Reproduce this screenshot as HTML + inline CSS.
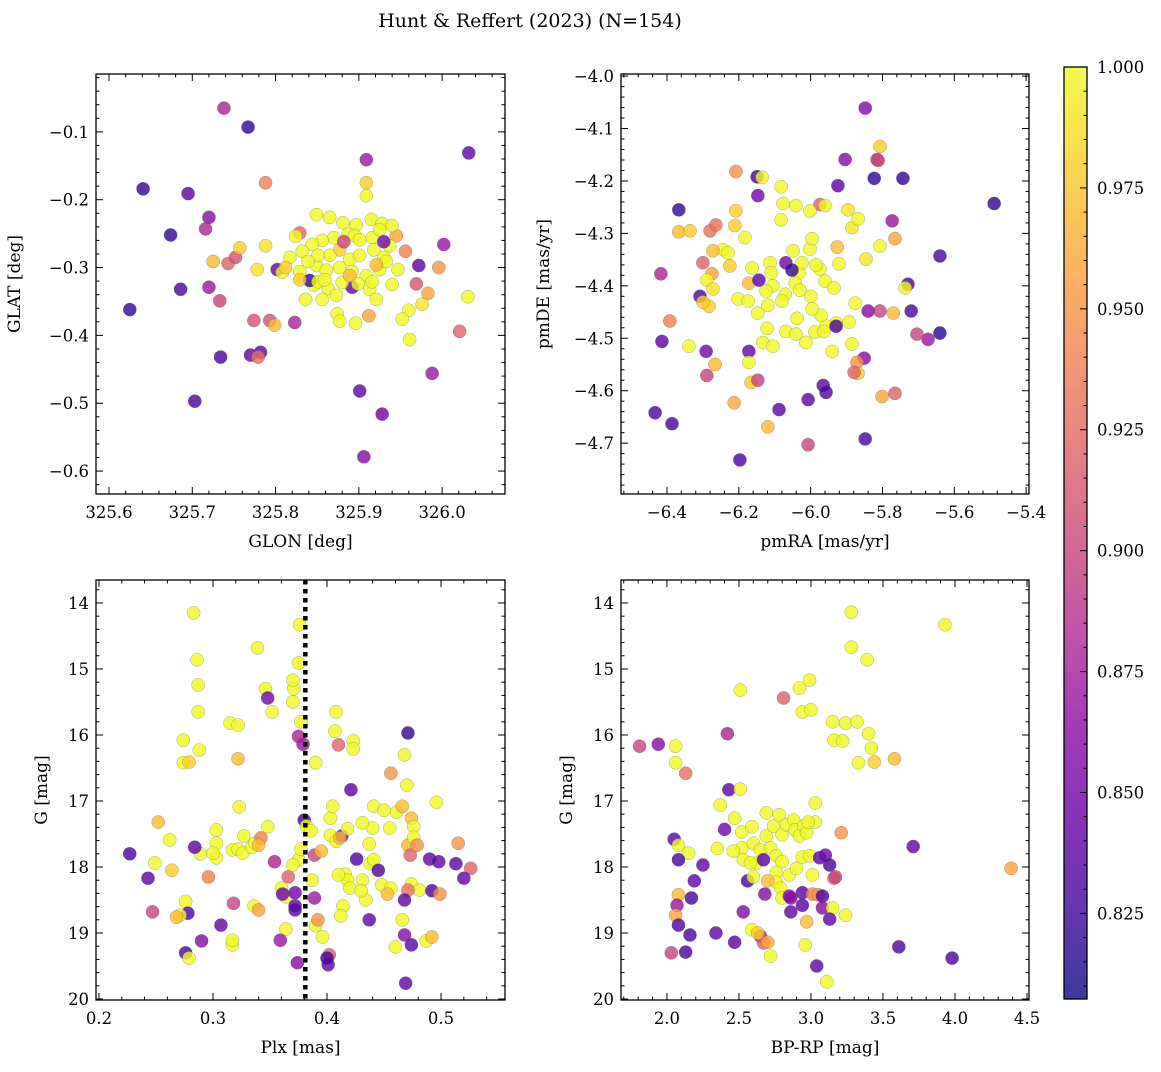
<!DOCTYPE html>
<html><head><meta charset="utf-8">
<style>
body{margin:0;background:#fff;}
svg text{font-family:"DejaVu Serif","Liberation Serif",serif;fill:#000;}
</style></head>
<body>
<svg id="fig" width="1161" height="1067" viewBox="0 0 1161 1067" xmlns="http://www.w3.org/2000/svg">
<text x="530" y="27" font-size="19" text-anchor="middle">Hunt &amp; Reffert (2023) (N=154)</text>
</svg>
<script>
// ---------- Panel 1: GLON vs GLAT ----------
const glon=[325.738,325.767,325.641,325.695,325.674,325.720,325.716,325.686,325.625,325.703,325.734,325.733,325.720,325.725,325.743,325.752,325.757,325.774,325.778,325.788,325.788,325.770,325.782,325.779,325.793,325.799,325.802,325.823,325.901,325.928,325.906,325.909,326.032,326.002,325.972,325.996,325.969,325.983,325.976,326.021,325.988,326.031,325.960,325.952,325.961,325.956,325.945,325.912,325.892,325.874,325.877,325.896,325.829,325.824,
325.849,325.865,325.881,325.897,325.909,325.909,325.915,325.928,325.940,325.916,325.887,325.870,325.856,325.844,325.832,325.817,325.808,325.829,325.849,325.861,325.877,325.889,325.901,325.918,325.930,325.925,325.909,325.899,325.880,325.863,325.846,325.836,325.856,325.873,325.913,325.921,325.933,325.947,325.937,325.895,325.877,325.865,325.851,325.839,325.892,325.841,325.889,325.882,325.921,325.940,325.916,325.851,325.925,325.930,325.829,325.812,325.859,325.901];
const glat=[-0.065,-0.093,-0.184,-0.191,-0.252,-0.226,-0.243,-0.332,-0.362,-0.497,-0.432,-0.349,-0.329,-0.291,-0.294,-0.285,-0.271,-0.378,-0.303,-0.175,-0.268,-0.429,-0.425,-0.432,-0.378,-0.385,-0.303,-0.381,-0.482,-0.516,-0.579,-0.141,-0.131,-0.266,-0.297,-0.300,-0.324,-0.338,-0.354,-0.394,-0.456,-0.343,-0.363,-0.376,-0.406,-0.276,-0.253,-0.371,-0.329,-0.368,-0.379,-0.382,-0.249,-0.254,
-0.222,-0.226,-0.234,-0.237,-0.194,-0.175,-0.229,-0.235,-0.238,-0.256,-0.251,-0.256,-0.260,-0.266,-0.276,-0.285,-0.307,-0.306,-0.297,-0.304,-0.300,-0.288,-0.282,-0.274,-0.285,-0.303,-0.312,-0.324,-0.322,-0.331,-0.326,-0.347,-0.347,-0.341,-0.332,-0.347,-0.291,-0.303,-0.268,-0.253,-0.274,-0.282,-0.282,-0.291,-0.306,-0.319,-0.312,-0.262,-0.296,-0.325,-0.321,-0.321,-0.244,-0.262,-0.318,-0.300,-0.318,-0.259];
const prob1=[0.88,0.82,0.82,0.84,0.82,0.86,0.88,0.83,0.82,0.83,0.83,0.90,0.87,0.97,0.92,0.91,0.98,0.91,0.99,0.94,0.99,0.84,0.84,0.93,0.91,0.97,0.84,0.88,0.84,0.85,0.86,0.87,0.84,0.87,0.84,0.95,0.91,0.96,0.99,0.92,0.87,1,1,1,1,0.94,0.96,0.96,0.84,1,1,1,0.92,1,
1,1,1,1,1,0.98,1,1,1,1,1,1,1,1,1,1,1,1,1,1,1,1,1,1,1,1,1,1,1,1,1,1,1,1,1,1,1,1,1,1,0.98,1,1,1,1,0.82,0.97,0.90,0.97,1,1,1,1,0.85,0.98,0.98,1,1];

// ---------- Panel 2: pmRA vs pmDE ----------
const pmra=[-5.848,-5.807,-5.815,-5.904,-5.823,-5.743,-5.489,-5.924,-5.974,-5.885,-5.896,-5.960,-6.041,-6.002,-6.077,-6.082,-6.149,-6.135,-6.208,-6.208,-6.147,-6.280,-6.367,-6.367,-6.336,-6.264,-6.211,-6.244,-6.272,-6.300,-6.275,-6.289,-6.272,-6.308,-6.283,-6.300,-6.417,-6.392,-6.339,-6.291,-6.266,-6.289,-6.414,-6.433,-6.386,-6.213,-6.197,-6.119,-6.172,-6.166,-6.147,-6.172,-6.007,-6.088,-6.007,-5.965,-5.957,-5.848,-5.851,-5.871,-5.868,-5.879,-5.885,-5.893,-5.801,-5.765,-5.807,-5.840,-5.770,-5.720,-5.673,-5.704,-5.640,-5.640,-5.729,-5.737,-5.765,-5.773,-5.807,-5.812,-5.846,-5.868,-5.876,-5.929,-5.957,-5.971,-5.996,-5.960,-5.935,-5.974,-6.002,-6.049,-6.032,-6.043,-6.071,-6.105,-6.124,-6.119,-6.147,-6.121,-6.133,-6.105,-6.113,-6.110,-6.069,-6.024,-5.985,-5.921,-5.996,-5.926,-6.038,-6.069,-6.041,-6.013,-5.988,-5.963,-5.940,-5.929,-6.052,-6.030,-5.999,-6.080,-6.163,-6.172,-6.230,-6.202,-6.174,-6.144,-6.183,-6.082,-6.225];
const pmde=[-4.061,-4.134,-4.159,-4.159,-4.195,-4.195,-4.243,-4.209,-4.245,-4.289,-4.255,-4.247,-4.247,-4.257,-4.243,-4.274,-4.192,-4.193,-4.182,-4.257,-4.228,-4.295,-4.255,-4.297,-4.295,-4.284,-4.285,-4.331,-4.333,-4.356,-4.377,-4.389,-4.406,-4.420,-4.439,-4.431,-4.377,-4.467,-4.515,-4.525,-4.550,-4.571,-4.506,-4.642,-4.663,-4.623,-4.732,-4.669,-4.525,-4.584,-4.580,-4.546,-4.617,-4.636,-4.703,-4.590,-4.603,-4.692,-4.538,-4.546,-4.567,-4.565,-4.511,-4.469,-4.611,-4.605,-4.448,-4.448,-4.452,-4.448,-4.502,-4.492,-4.490,-4.343,-4.397,-4.404,-4.310,-4.276,-4.324,-4.161,-4.349,-4.272,-4.433,-4.471,-4.477,-4.456,-4.444,-4.391,-4.404,-4.368,-4.330,-4.333,-4.375,-4.395,-4.416,-4.400,-4.410,-4.437,-4.452,-4.481,-4.508,-4.515,-4.356,-4.375,-4.356,-4.356,-4.360,-4.358,-4.310,-4.326,-4.462,-4.487,-4.492,-4.508,-4.488,-4.487,-4.525,-4.477,-4.370,-4.408,-4.420,-4.429,-4.366,-4.395,-4.337,-4.425,-4.429,-4.389,-4.308,-4.211,-4.362];
const prob2=[0.86,0.98,0.90,0.86,0.82,0.82,0.82,0.84,0.92,0.99,0.99,1,1,1,1,1,0.83,1,0.95,0.98,0.85,0.93,0.82,0.97,0.98,0.93,0.98,1,0.97,0.92,0.96,1,0.99,0.83,0.98,0.98,0.88,0.94,1,0.85,0.97,0.90,0.84,0.83,0.83,0.96,0.83,0.97,0.84,0.98,0.90,1,0.84,0.84,0.90,0.84,0.83,0.83,0.86,0.95,0.98,0.92,1,1,0.96,0.92,0.90,0.86,0.97,0.83,0.87,0.90,0.82,0.83,0.83,1,0.96,0.87,1,0.90,0.99,1,1,1,1,1,1,1,1,1,1,1,1,1,1,1,1,1,1,1,1,1,1,1,0.85,1,1,1,1,0.97,1,1,1,1,1,1,1,0.83,0.82,1,1,1,1,0.97,1,1,1,0.84,1,1,0.98];

// ---------- Panel 3: Plx vs G ----------
const plx=[.283,.286,.287,.287,.288,.274,.274,.279,.339,.346,.348,.352,.371,.370,.375,.370,.376,.315,.322,.322,.375,.379,.377,.390,.408,.407,.410,.423,.423,.421,.456,.323,.303,.303,.303,.317,.322,.326,.334,.337,.348,.354,.360,.366,.364,.372,.372,.375,.377,.380,.382,.386,.387,.389,.395,.403,.403,.405,.408,.413,.418,.411,.416,.418,.420,.414,.412,.396,.390,.392,.402,.401,.400,.389,.372,.370,.361,.364,.359,.374,.327,.336,.340,.342,.340,.300,.289,.296,.284,.264,.262,.276,.278,.271,.268,.290,.276,.279,.307,.317,.317,.318,.247,.243,.227,.249,.252,.410,.431,.434,.437,.430,.438,.441,.437,.440,.431,.441,.450,.455,.448,.456,.461,.466,.471,.473,.474,.476,.476,.479,.474,.481,.471,.468,.466,.460,.474,.468,.469,.487,.492,.490,.498,.492,.496,.515,.513,.526,.520,.499,.471,.468,.470,.453,.445,.426];
const gmag3=[14.15,14.86,15.24,15.65,16.23,16.08,16.42,16.41,14.68,15.30,15.44,15.65,15.30,15.50,14.91,15.17,14.33,15.82,15.85,16.36,16.02,16.14,15.80,16.42,15.65,15.94,16.15,16.09,16.21,16.83,16.58,17.09,17.44,17.64,17.86,17.74,17.73,17.79,17.70,17.64,17.39,17.92,18.32,18.15,18.45,18.65,18.59,17.89,17.73,17.29,17.38,17.45,18.20,17.82,17.76,17.26,17.52,17.08,17.61,17.53,17.42,17.56,18.11,18.20,18.32,18.59,18.74,19.06,18.89,18.80,19.33,19.48,19.38,18.47,18.39,17.97,18.41,18.94,19.11,19.45,17.53,18.59,18.65,17.56,17.67,17.79,17.80,18.15,17.70,18.05,17.59,18.52,18.70,18.73,18.76,19.12,19.30,19.38,18.88,19.18,19.11,18.55,18.68,18.17,17.80,17.94,17.32,18.12,18.20,18.50,18.80,18.36,17.95,17.89,17.65,17.41,17.33,17.08,17.14,17.41,18.27,18.32,17.17,17.08,17.67,17.82,17.26,17.39,17.55,17.67,18.26,18.35,18.35,18.50,18.80,19.21,19.18,19.03,19.76,19.12,19.06,17.88,17.92,18.36,17.02,17.64,17.95,18.02,18.17,18.41,15.97,16.30,16.76,18.41,18.05,17.88];
const prob3=[1,1,1,1,1,1,1,0.98,1,1,0.85,1,1,1,1,1,1,1,1,0.97,0.88,0.87,1,1,1,1,0.92,1,1,0.84,0.95,1,1,1,1,1,1,1,1,1,1,0.88,1,0.92,1,0.84,0.84,1,1,0.83,1,1,1,0.90,0.97,1,1,1,1,0.85,1,0.97,1,1,1,1,1,1,1,0.95,0.92,0.84,0.83,0.87,0.85,1,0.85,1,0.87,0.86,1,1,0.96,0.94,0.97,1,1,0.94,0.84,0.98,1,1,0.83,1,0.97,0.86,0.83,1,0.84,1,1,0.90,0.90,0.84,0.83,1,0.97,1,1,1,0.84,1,1,1,1,1,1,1,1,1,1,1,1,0.97,0.97,0.92,0.97,1,1,0.95,1,1,0.93,0.84,1,1,0.84,0.86,0.84,1,0.97,0.84,0.84,0.83,1,0.95,0.84,0.92,0.84,0.95,0.82,1,1,0.97,0.83,0.83,0.84];
const plxMean=[0.381];

// ---------- Panel 4: BP-RP vs G ----------
const bprp=[1.81,1.94,2.13,2.42,2.51,2.81,2.92,2.99,2.94,3.00,3.28,3.28,3.39,3.93,3.15,3.24,3.32,3.40,3.16,3.22,3.42,3.33,3.44,3.58,2.06,2.06,2.05,2.08,2.15,2.08,2.25,2.08,2.07,2.06,2.08,2.19,2.17,2.16,2.34,2.53,2.13,2.03,2.37,2.43,2.51,2.52,2.47,2.52,2.59,2.60,2.62,2.65,2.69,2.69,2.74,2.78,2.80,2.83,2.88,2.89,2.92,2.95,3.03,3.03,2.97,2.72,2.76,2.80,2.76,2.76,2.79,2.80,2.85,2.90,2.94,2.99,3.01,3.06,3.10,3.13,2.85,2.94,3.01,3.05,3.08,3.16,3.17,3.21,2.97,2.94,3.08,3.15,3.13,3.24,2.86,2.86,2.96,3.04,3.11,2.59,2.65,2.67,2.70,2.72,2.63,2.47,2.70,2.68,2.56,2.60,2.67,2.53,3.61,3.98,3.71,4.39,2.40,2.98,2.35,2.46,2.58];
const gmag4=[16.17,16.14,16.58,15.98,15.32,15.44,15.29,15.17,15.65,15.62,14.14,14.67,14.86,14.33,15.80,15.82,15.80,15.98,16.08,16.09,16.20,16.42,16.41,16.36,16.17,16.42,17.58,17.67,17.79,17.89,17.97,18.42,18.58,18.73,18.88,18.21,18.47,19.03,19.00,18.68,19.29,19.30,17.06,16.83,16.82,17.47,17.26,17.71,17.39,17.64,17.94,17.74,17.53,17.18,17.38,17.21,17.51,17.36,17.29,17.44,17.53,17.38,17.03,17.32,17.48,17.71,17.83,17.92,18.08,18.23,18.32,18.47,18.12,18.02,17.85,17.83,18.12,17.86,17.82,17.97,18.44,18.39,18.41,18.42,18.44,18.17,18.15,17.48,18.83,18.58,18.62,18.62,18.79,18.73,18.68,18.47,19.18,19.50,19.74,18.95,19.05,19.15,19.14,19.35,19.00,19.14,18.21,18.41,18.21,18.15,17.89,17.89,19.21,19.38,17.69,18.02,17.43,17.32,17.72,17.76,17.94];
const prob4=[0.90,0.86,0.93,0.88,1,0.92,1,1,1,1,1,1,1,1,1,1,1,1,1,1,1,1,0.98,0.97,1,1,0.84,1,1,0.83,0.84,0.97,0.87,0.96,0.83,0.84,0.83,0.83,0.84,0.86,0.83,0.90,1,0.84,1,1,1,1,1,1,1,1,1,1,1,1,1,1,1,1,1,1,1,1,1,1,1,1,1,1,1,1,1,1,1,1,1,0.84,0.85,0.83,0.86,0.84,0.94,0.95,0.83,0.92,0.90,0.95,0.97,0.84,0.86,1,0.84,1,0.84,0.86,1,0.84,1,1,0.88,0.92,0.96,1,0.98,0.84,0.97,0.86,0.83,1,0.84,1,0.83,0.83,0.84,0.96,0.85,1,1,1,1];

// colorbar ticks
const cbTicks=[0.825,0.850,0.875,0.900,0.925,0.950,0.975,1.000];
const vmin=0.8073, vmax=1.0;

const NS="http://www.w3.org/2000/svg";
const svg=document.getElementById('fig');
function mk(tag,attrs,parent){const e=document.createElementNS(NS,tag);for(const k in attrs)e.setAttribute(k,attrs[k]);(parent||svg).appendChild(e);return e;}
const plasma=["#0d0887","#41049d","#6a00a8","#8f0da4","#b12a90","#cc4778","#e16462","#f2844b","#fca636","#fcce25","#f0f921"];
function hex(c){return [parseInt(c.slice(1,3),16),parseInt(c.slice(3,5),16),parseInt(c.slice(5,7),16)];}
function cmap(t){t=Math.max(0,Math.min(1,t));const f=t*10,i=Math.min(9,Math.floor(f)),r=f-i;const a=hex(plasma[i]),b=hex(plasma[i+1]);return `rgb(${a.map((v,k)=>Math.round(v+(b[k]-v)*r)).join(',')})`;}
function colorOf(p){return cmap((p-vmin)/(vmax-vmin));}
function fmt(v,d){const s=Math.abs(v).toFixed(d);return (v<-1e-9?'\u2212':'')+s;}

function panel(cfg){
  const {x0,x1,y0,y1,xmin,xmax,ymin,ymax,name}=cfg;
  const g=mk('g',{});
  
  
  const sx=v=>x0+(v-xmin)/(xmax-xmin)*(x1-x0);
  const sy=cfg.invert? (v=>y0+(v-ymin)/(ymax-ymin)*(y1-y0)) : (v=>y1-(v-ymin)/(ymax-ymin)*(y1-y0));
  const pts=mk('g',{},g);
  
  
  cfg.xs.forEach((xv,i)=>{
    const c=mk('circle',{cx:sx(xv),cy:sy(cfg.ys[i]),r:6.6,fill:colorOf(cfg.cs[i]),'fill-opacity':0.8,stroke:'#555','stroke-width':0.4,'stroke-opacity':0.6},pts);
    
    
  });
  if(cfg.vline!==undefined){
    const l=mk('line',{x1:sx(cfg.vline),x2:sx(cfg.vline),y1:y0,y2:y1,stroke:'#000','stroke-width':4.5,'stroke-dasharray':'4.5,4.5'},g);
    
    
  }
  const fr=mk('rect',{x:x0,y:y0,width:x1-x0,height:y1-y0,fill:'none',stroke:'#000','stroke-width':1.3},g);
  
  
  const eps=1e-9;
  for(let v=Math.ceil((xmin)/cfg.xminor-eps)*cfg.xminor; v<=xmax+eps; v+=cfg.xminor){
    const vv=Math.round(v/cfg.xminor)*cfg.xminor;
    const major=Math.abs(vv/cfg.xmajor-Math.round(vv/cfg.xmajor))<1e-6;
    const L=major?7:3.5, X=sx(vv);
    mk('line',{x1:X,x2:X,y1:y1,y2:y1-L,stroke:'#000','stroke-width':1},g);
    mk('line',{x1:X,x2:X,y1:y0,y2:y0+L,stroke:'#000','stroke-width':1},g);
    if(major){const t=mk('text',{x:X,y:y1+24,'font-size':16.5,'text-anchor':'middle'},g);t.textContent=fmt(vv,cfg.xd);
      }
  }
  for(let v=Math.ceil((ymin)/cfg.yminor-eps)*cfg.yminor; v<=ymax+eps; v+=cfg.yminor){
    const vv=Math.round(v/cfg.yminor)*cfg.yminor;
    const major=Math.abs(vv/cfg.ymajor-Math.round(vv/cfg.ymajor))<1e-6;
    const L=major?7:3.5, Y=sy(vv);
    mk('line',{x1:x0,x2:x0+L,y1:Y,y2:Y,stroke:'#000','stroke-width':1},g);
    mk('line',{x1:x1,x2:x1-L,y1:Y,y2:Y,stroke:'#000','stroke-width':1},g);
    if(major){const t=mk('text',{x:x0-7,y:Y+6,'font-size':16.5,'text-anchor':'end'},g);t.textContent=fmt(vv,cfg.yd);
      }
  }
  const xl=mk('text',{x:(x0+x1)/2,y:y1+53,'font-size':17,'text-anchor':'middle'},g);xl.textContent=cfg.xlabel;
  
  const yl=mk('text',{x:0,y:0,'font-size':17,'text-anchor':'middle',transform:`translate(${cfg.ylx},${(y0+y1)/2}) rotate(-90)`},g);yl.textContent=cfg.ylabel;
  
}

panel({name:'glon-glat-panel',x0:96,x1:505,y0:74,y1:494,xmin:325.5844,xmax:326.0755,ymin:-0.6338,ymax:-0.0147,xs:glon,ys:glat,cs:prob1,xmajor:0.1,xminor:0.02,ymajor:0.1,yminor:0.02,xd:1,yd:1,xlabel:'GLON [deg]',ylabel:'GLAT [deg]',ylx:20});
panel({name:'pm-panel',x0:621,x1:1029,y0:74,y1:494,xmin:-6.528,xmax:-5.392,ymin:-4.797,ymax:-3.996,xs:pmra,ys:pmde,cs:prob2,xmajor:0.2,xminor:0.04,ymajor:0.1,yminor:0.02,xd:1,yd:1,xlabel:'pmRA [mas/yr]',ylabel:'pmDE [mas/yr]',ylx:549});
panel({name:'plx-g-panel',x0:96,x1:505,y0:580,y1:1000,xmin:0.1974,xmax:0.5561,ymin:13.652,ymax:20.015,invert:true,xs:plx,ys:gmag3,cs:prob3,vline:plxMean[0],xmajor:0.1,xminor:0.02,ymajor:1,yminor:0.2,xd:1,yd:0,xlabel:'Plx [mas]',ylabel:'G [mag]',ylx:47});
panel({name:'cmd-panel',x0:621,x1:1029,y0:580,y1:1000,xmin:1.681,xmax:4.514,ymin:13.652,ymax:20.015,invert:true,xs:bprp,ys:gmag4,cs:prob4,xmajor:0.5,xminor:0.1,ymajor:1,yminor:0.2,xd:1,yd:0,xlabel:'BP-RP [mag]',ylabel:'G [mag]',ylx:572});

// colorbar
(function(){
  const cx0=1064,cx1=1087,cy0=67,cy1=999;
  const g=mk('g',{});
  
  
  const defs=mk('defs',{},g);
  const lg=mk('linearGradient',{id:'cbg',x1:0,y1:1,x2:0,y2:0},defs);
  for(let i=0;i<=20;i++){mk('stop',{offset:i/20,'stop-color':cmap(i/20),'stop-opacity':0.8},lg);}
  mk('rect',{x:cx0,y:cy0,width:cx1-cx0,height:cy1-cy0,fill:'url(#cbg)',stroke:'#000','stroke-width':1.3},g);
  const sy=v=>cy1-(v-vmin)/(vmax-vmin)*(cy1-cy0);
  for(let k=Math.ceil(vmin/0.005);k*0.005<=vmax+1e-9;k++){
    const v=k*0.005, Y=sy(v), major=(k%5===0);
    mk('line',{x1:cx1,x2:cx1-(major?7:3.5),y1:Y,y2:Y,stroke:'#000','stroke-width':1},g);
  }
  cbTicks.forEach(v=>{const t=mk('text',{x:cx1+10,y:sy(v)+6,'font-size':16.5},g);t.textContent=v.toFixed(3);
    });
})();
</script>
</body></html>
